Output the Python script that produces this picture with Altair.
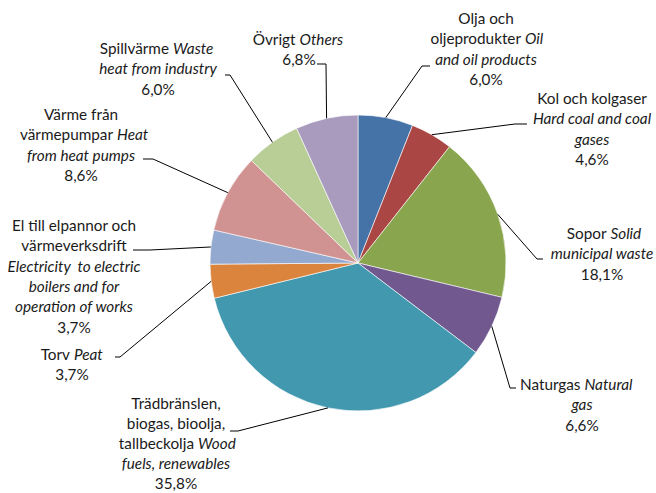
import math
import altair as alt
import pandas as pd

# ---------------- data ----------------
categories = ["Olja", "Kol", "Sopor", "Naturgas", "Trädbränslen",
              "Torv", "El", "Värme", "Spillvärme", "Övrigt"]
values = [6.0, 4.6, 18.1, 6.6, 35.8, 3.7, 3.7, 8.6, 6.0, 6.8]
colors = ["#4572A7", "#AA4643", "#89A54E", "#71588F", "#4198AF",
          "#DB843D", "#93A9CF", "#D19392", "#B9CD96", "#A99BBD"]
# label lines: (normal Swedish part, italic English part)
label_lines = [
    [("Olja och", ""), ("oljeprodukter", "Oil"), ("", "and oil products")],
    [("Kol och kolgaser", ""), ("", "Hard coal and coal"), ("", "gases")],
    [("Sopor", "Solid"), ("", "municipal waste")],
    [("Naturgas", "Natural"), ("", "gas")],
    [("Trädbränslen,", ""), ("biogas, bioolja,", ""), ("tallbeckolja", "Wood"),
     ("", "fuels, renewables")],
    [("Torv", "Peat")],
    [("El till elpannor och", ""), ("värmeverksdrift", ""),
     ("", "Electricity\u00a0 to electric"), ("", "boilers and for"),
     ("", "operation of works")],
    [("Värme från", ""), ("värmepumpar", "Heat"), ("", "from heat pumps")],
    [("Spillvärme", "Waste"), ("", "heat from industry")],
    [("Övrigt", "Others")],
]

# ---------------- layout ----------------
W, H = 656, 493
CX, CY, R = 358, 263, 148
LINE_H = 20.3
FONT = "Lato"
FS = 15.3
# label block: (center x, y of first line, line spacing)
anchors = [(486, 19, LINE_H), (592, 99, LINE_H), (602, 234, LINE_H),
           (582, 385, LINE_H), (176, 404, 19.9), (72, 355, LINE_H),
           (74, 226, LINE_H), (81, 115, LINE_H), (158, 49, LINE_H),
           (299, 40, LINE_H)]
# x of the gap between normal and italic parts on mixed lines
splits = {(0, 1): 523, (2, 0): 608.5, (3, 0): 582.5, (4, 2): 196,
          (5, 0): 72, (7, 1): 115, (8, 0): 171, (9, 0): 297.5}
# leader line bends, from label end toward the slice
bends = [
    [(430, 66), (422, 66)],
    [(527, 124), (515, 124)],
    [(543, 259), (537, 259)],
    [(516, 388), (510, 388)],
    [(230, 431), (238, 431)],
    [(115, 357), (120, 357)],
    [(133, 250), (150, 250)],
    [(143, 159), (153, 159)],
    [(225, 75), (230, 75)],
    [(317, 64), (326, 64)],
]

total = sum(values)
pie_df = pd.DataFrame({"cat": categories, "value": values,
                       "order": list(range(len(values)))})

# text fragments
rows = []
for i, lines in enumerate(label_lines):
    cx, y0, lh = anchors[i]
    pct = f"{values[i]:.1f}".replace(".", ",") + "%"
    all_lines = lines + [(pct, "")]
    for j, (norm, ital) in enumerate(all_lines):
        y = y0 + j * lh
        if norm and ital:
            b = splits[(i, j)]
            rows.append({"t": norm, "x": b - 2, "y": y, "kind": "norm_right"})
            rows.append({"t": ital, "x": b + 2, "y": y, "kind": "ital_left"})
        elif norm:
            rows.append({"t": norm, "x": cx, "y": y, "kind": "norm_center"})
        else:
            rows.append({"t": ital, "x": cx, "y": y, "kind": "ital_center"})
text_df = pd.DataFrame(rows)

# leader lines
lrows = []
cum = 0.0
for i, v in enumerate(values):
    mid = (cum + v / 2) / total * 2 * math.pi
    cum += v
    pts = bends[i] + [(CX + R * math.sin(mid), CY - R * math.cos(mid))]
    for k, (px, py) in enumerate(pts):
        lrows.append({"cat": categories[i], "k": k, "x": px, "y": py})
line_df = pd.DataFrame(lrows)

pie = alt.Chart(pie_df).mark_arc(outerRadius=R, stroke="white",
                                 strokeWidth=0.6).encode(
    theta=alt.Theta("value:Q", stack=True),
    color=alt.Color("cat:N", scale=alt.Scale(domain=categories, range=colors),
                    legend=None),
    order=alt.Order("order:Q"),
    x=alt.value(CX), y=alt.value(CY),
)

leaders = alt.Chart(line_df).mark_line(color="black", strokeWidth=1).encode(
    x=alt.X("x:Q", scale=None, axis=None),
    y=alt.Y("y:Q", scale=None, axis=None),
    detail="cat:N",
    order="k:Q",
)


def text_layer(kind, align, style):
    return alt.Chart(text_df).transform_filter(
        alt.datum.kind == kind
    ).mark_text(align=align, baseline="middle", font=FONT, fontSize=FS,
                fontStyle=style, color="#1a1a1a").encode(
        x=alt.X("x:Q", scale=None, axis=None),
        y=alt.Y("y:Q", scale=None, axis=None),
        text="t:N",
    )


texts = [text_layer("norm_center", "center", "normal"),
         text_layer("norm_right", "right", "normal"),
         text_layer("ital_center", "center", "italic"),
         text_layer("ital_left", "left", "italic")]

chart = alt.layer(pie, leaders, *texts).properties(
    width=W, height=H, padding=0, autosize=alt.AutoSizeParams(type="none"),
    background="white",
).configure_view(stroke=None)

chart.save("out.html", embed_options={"renderer": "svg", "actions": False})
